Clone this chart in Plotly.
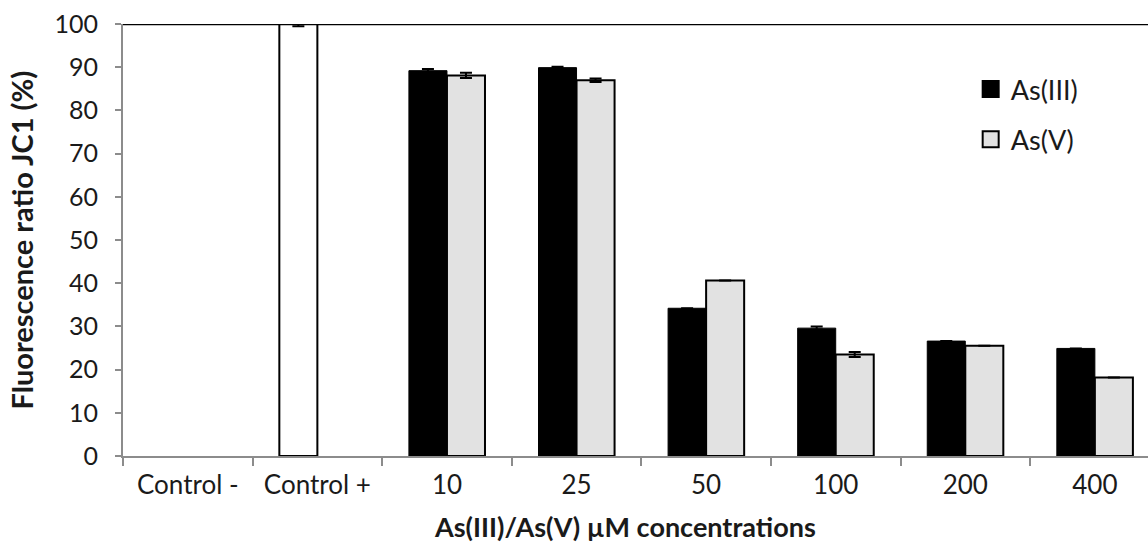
import plotly.graph_objects as go

categories = ["Control -", "Control +", "10", "25", "50", "100", "200", "400"]
control_values = [None, 100, None, None, None, None, None, None]
control_err = [0, 0.5, 0, 0, 0, 0, 0, 0]
as3_values = [None, None, 89.2, 89.9, 34.2, 29.6, 26.6, 24.9]
as3_err = [0, 0, 0.4, 0.2, 0, 0.4, 0, 0]
as5_values = [None, None, 88.1, 87.0, 40.6, 23.5, 25.5, 18.2]
as5_err = [0, 0, 0.6, 0.4, 0, 0.6, 0, 0]
y_ticks = [0, 10, 20, 30, 40, 50, 60, 70, 80, 90, 100]
series_names = ["As(III)", "As(V)"]

FONT = "Lato, 'Open Sans', sans-serif"
AXIS_GRAY = "#8c8c8c"
FS = 26
BLACK_FILL = "black"
GRAY_FILL = "#e2e2e2"

fig = go.Figure()
fig.add_trace(go.Bar(
    x=categories, y=control_values, name="Control", showlegend=False,
    offsetgroup="a",
    marker=dict(color="white", line=dict(color="black", width=2)),
    error_y=dict(type="data", array=control_err, color="black", thickness=2, width=6),
))
fig.add_trace(go.Bar(
    x=categories, y=as3_values, name=series_names[0], offsetgroup="a", showlegend=False,
    marker=dict(color=BLACK_FILL, line=dict(color="black", width=1)),
    error_y=dict(type="data", array=as3_err, color="black", thickness=2, width=6),
))
fig.add_trace(go.Bar(
    x=categories, y=as5_values, name=series_names[1], offsetgroup="b", showlegend=False,
    marker=dict(color=GRAY_FILL, line=dict(color="black", width=2)),
    error_y=dict(type="data", array=as5_err, color="black", thickness=2, width=6),
))
# legend entries with larger square swatches
for nm, col, grp in [(series_names[0], BLACK_FILL, "g1"), (series_names[1], GRAY_FILL, "g2")]:
    fig.add_trace(go.Scatter(
        x=[None], y=[None], mode="markers", name=nm, legendgroup=grp, showlegend=True,
        marker=dict(symbol="square", size=17, color=col, line=dict(color="black", width=2)),
    ))

fig.add_shape(type="line", xref="paper", yref="y", x0=0, x1=1, y0=100, y1=100,
              line=dict(color="black", width=2.5), layer="above")

fig.update_layout(
    width=1148, height=542,
    margin=dict(l=123, r=0, t=24, b=86),
    paper_bgcolor="white", plot_bgcolor="white",
    barmode="group", bargap=0.413, bargroupgap=0,
    font=dict(family=FONT, size=FS, color="#1a1a1a"),
    showlegend=True,
    legend=dict(x=0.827, y=0.905, xanchor="left", yanchor="top",
                font=dict(size=27, family=FONT), traceorder="grouped",
                tracegroupgap=12, bgcolor="rgba(0,0,0,0)", itemwidth=30),
    xaxis=dict(
        range=[-0.5, 7.41], showline=True, linecolor=AXIS_GRAY, linewidth=2,
        ticks="outside", tickson="boundaries", ticklen=8, tickwidth=2, tickcolor=AXIS_GRAY,
        ticklabelstandoff=5, showgrid=False, zeroline=False,
        tickfont=dict(size=FS, family=FONT),
    ),
    yaxis=dict(
        range=[0, 100], tickvals=y_ticks, showline=True, linecolor=AXIS_GRAY, linewidth=2,
        ticks="outside", ticklen=6, tickwidth=2, tickcolor=AXIS_GRAY,
        ticklabelstandoff=12, showgrid=False, zeroline=False,
        tickfont=dict(size=25, family=FONT),
    ),
    annotations=[
        dict(text="<b>As(III)/As(V) µM concentrations</b>", xref="paper", yref="paper",
             x=(625 - 123) / (1148 - 123), y=-0.163, xanchor="center", yanchor="middle",
             showarrow=False, font=dict(size=27, family=FONT)),
        dict(text="<b>Fluorescence ratio JC1 (%)</b>", xref="paper", yref="paper",
             x=-0.1, y=0.5, xanchor="center", yanchor="middle", textangle=-90,
             showarrow=False, font=dict(size=29, family=FONT)),
    ],
)

fig.write_html("out.html", config={"displayModeBar": False},
               post_script="document.body.style.margin='0';document.body.style.padding='0';")
